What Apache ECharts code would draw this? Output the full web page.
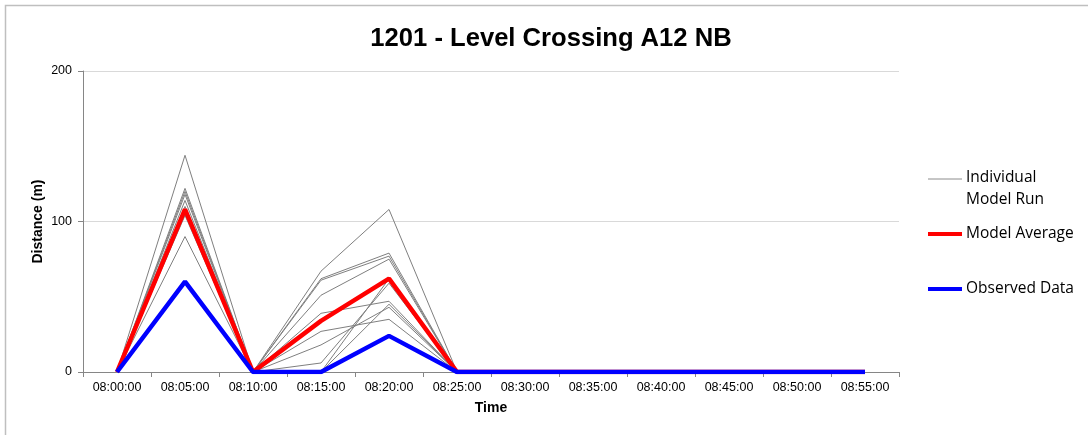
<!DOCTYPE html>
<html>
<head>
<meta charset="utf-8">
<script src="https://cdn.jsdelivr.net/npm/echarts@6/dist/echarts.min.js"></script>
<style>html,body{margin:0;padding:0;background:#fff}#c{width:1088px;height:435px}</style>
</head>
<body>
<div id="c"></div>
<script>
const categories = ['08:00:00','08:05:00','08:10:00','08:15:00','08:20:00','08:25:00','08:30:00','08:35:00','08:40:00','08:45:00','08:50:00','08:55:00'];
const run1  = [0,144,0,67,108,0,0,0,0,0,0,0];
const run2  = [0,122,0,62,79,0,0,0,0,0,0,0];
const run3  = [0,120,0,61,77,0,0,0,0,0,0,0];
const run4  = [0,118,0,51,75,0,0,0,0,0,0,0];
const run5  = [0,114,0,39,47,0,0,0,0,0,0,0];
const run6  = [0,110,0,27,35,0,0,0,0,0,0,0];
const run7  = [0,90,0,18,43,0,0,0,0,0,0,0];
const run8  = [0,106,0,6,59,0,0,0,0,0,0,0];
const run9  = [0,105,0,0,62,0,0,0,0,0,0,0];
const run10 = [0,104,0,0,45,0,0,0,0,0,0,0];
const modelAverage = [0,108,0,34,62,0,0,0,0,0,0,0];
const observed     = [0,60,0,0,24,0,0,0,0,0,0,0];
const runs = [run1,run2,run3,run4,run5,run6,run7,run8,run9,run10];

const chart = echarts.init(document.getElementById('c'));
const series = runs.map(r => ({
  name: 'Individual Model Run', type: 'line', data: r, symbol: 'none',
  lineStyle: {color: '#7f7f7f', width: 1}, z: 2, silent: true
}));
series.push({name: 'Model Average', type: 'line', data: modelAverage, symbol: 'none',
  lineStyle: {color: '#ff0000', width: 4.5}, z: 3});
series.push({name: 'Observed Data', type: 'line', data: observed, symbol: 'none',
  lineStyle: {color: '#0000ff', width: 4.5}, z: 4});

const legFont = '15.5px "Open Sans", sans-serif';
chart.setOption({
  animation: false,
  backgroundColor: '#fff',
  title: {
    text: '1201 - Level Crossing A12 NB', left: 546, top: 21, textAlign: 'center',
    textStyle: {fontFamily: '"Liberation Sans", Arial, sans-serif', fontWeight: 'bold', fontSize: 25.6, color: '#000'}
  },
  grid: {left: 83, right: 189, top: 71, bottom: 63},
  xAxis: {
    type: 'category', data: categories, boundaryGap: true,
    name: 'Time', nameLocation: 'middle', nameGap: 29, nameMoveOverlap: false,
    nameTextStyle: {fontFamily: '"Liberation Sans", Arial, sans-serif', fontWeight: 'bold', fontSize: 14, color: '#000'},
    axisLine: {lineStyle: {color: '#868686', width: 1}},
    axisTick: {show: true, interval: 0, length: 5, lineStyle: {color: '#868686'}},
    axisLabel: {interval: 0, margin: 9, fontFamily: '"Liberation Sans", Arial, sans-serif', fontSize: 12.5, color: '#000'},
    splitLine: {show: false}
  },
  yAxis: {
    type: 'value', min: 0, max: 200, interval: 100,
    name: 'Distance (m)', nameLocation: 'middle', nameGap: 38, nameRotate: 90, nameMoveOverlap: false,
    nameTextStyle: {fontFamily: '"Liberation Sans", Arial, sans-serif', fontWeight: 'bold', fontSize: 14, color: '#000'},
    axisLine: {show: true, lineStyle: {color: '#868686', width: 1}},
    axisTick: {show: true, length: 5, lineStyle: {color: '#868686'}},
    axisLabel: {margin: 11, fontFamily: '"Liberation Sans", Arial, sans-serif', fontSize: 12.5, color: '#000'},
    splitLine: {show: true, lineStyle: {color: '#d9d9d9', width: 1}}
  },
  series: series,
  graphic: [
    {type: 'polyline', shape: {points: [[5.5, 440], [5.5, 5.5], [1088, 5.5]]}, style: {stroke: '#bfbfbf', lineWidth: 1.5, fill: null}, silent: true},
    {type: 'line', shape: {x1: 928, y1: 179, x2: 962, y2: 179}, style: {stroke: '#8c8c8c', lineWidth: 1}},
    {type: 'text', left: 966, top: 167, style: {text: 'Individual\nModel Run', font: legFont, fill: '#000', lineHeight: 22}},
    {type: 'line', shape: {x1: 928, y1: 234, x2: 962, y2: 234}, style: {stroke: '#ff0000', lineWidth: 4}},
    {type: 'text', left: 966, top: 223, style: {text: 'Model Average', font: legFont, fill: '#000', lineHeight: 22}},
    {type: 'line', shape: {x1: 928, y1: 289, x2: 962, y2: 289}, style: {stroke: '#0000ff', lineWidth: 4}},
    {type: 'text', left: 966, top: 278, style: {text: 'Observed Data', font: legFont, fill: '#000', lineHeight: 22}}
  ]
});
</script>
</body>
</html>
